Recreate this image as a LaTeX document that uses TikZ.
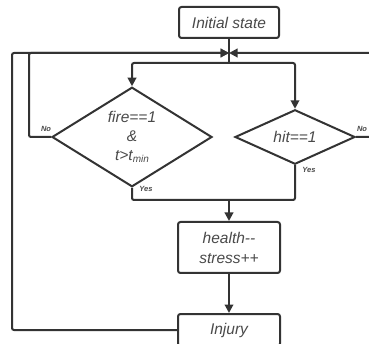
\documentclass[tikz,border=0pt]{standalone}
\usepackage{fontspec}
\setmainfont{Liberation Sans}
\usetikzlibrary{arrows.meta,shapes.geometric}
\definecolor{ln}{HTML}{333333}
\definecolor{tx}{HTML}{4A4A4A}
\tikzset{
  box/.style={draw=ln, line width=2pt, rounded corners=2.5pt, fill=white, inner sep=0pt,
    minimum width=102pt, text=tx, font=\fontsize{15.5}{20}\selectfont\itshape, align=center},
  dia/.style={draw=ln, line width=2pt, diamond, inner sep=0pt, text=tx,
    font=\fontsize{15.5}{19}\selectfont\itshape, align=center},
  con/.style={draw=ln, line width=2pt, rounded corners=2pt},
  arr/.style={con, -{Triangle[length=8.5pt,width=8.5pt]}},
  lab/.style={text=tx, font=\fontsize{7.5}{8}\selectfont\bfseries\itshape, inner sep=0pt}
}
\begin{document}
\begin{tikzpicture}[x=1pt,y=-1pt]
\useasboundingbox[fill=white] (0,0) rectangle (369,344);
\node[box, minimum width=100pt, minimum height=31pt] (init) at (229,22.5) {Initial state};
\coordinate (J) at (229,53);
\coordinate (S) at (229,63);
\node[dia, minimum width=160pt, minimum height=96pt] (fire) at (132,137)
  {fire==1\\\&\\t>t\raisebox{-0.25ex}{\fontsize{10}{10}\selectfont min}};
\node[dia, minimum width=120pt, minimum height=50pt] (hit) at (295,137) {hit==1};
\coordinate (M) at (229,200);
\node[box, minimum height=51pt] (health) at (229,247.5) {health-{}-\\stress++};
\node[box, minimum height=32pt] (injury) at (229,330) {Injury};
\coordinate (R) at (374,137);
% top
\draw[con] (init) -- (S);
\draw[arr] (S) -| (fire.north);
\draw[arr] (S) -| (hit.north);
% No branches
\draw[arr] (fire.west) -- ++(-22,0) |- (J);
\draw[arr] (hit.east) -- (R) |- (J);
\draw[arr] (injury.west) -- ++(-165,0) |- (J);
% Yes branches
\draw[con] (fire.south) |- (M) -| (hit.south);
\draw[arr] (M) -- (health);
\draw[arr] (health) -- (injury);
% labels
\node[lab] at (46,129) {No};
\node[lab] at (362,129) {No};
\node[lab] at (146,189) {Yes};
\node[lab] at (309,170) {Yes};
\end{tikzpicture}
\end{document}
